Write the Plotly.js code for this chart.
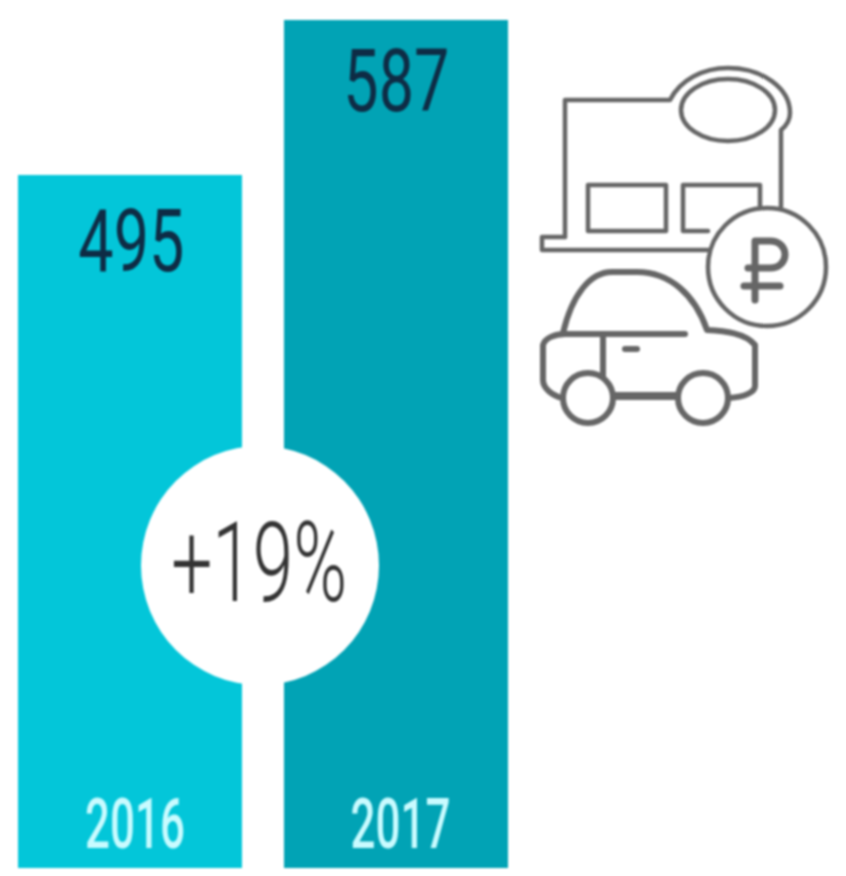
<!DOCTYPE html>
<html>
<head>
<meta charset="utf-8">
<script src="https://cdn.plot.ly/plotly-3.0.1.min.js"></script>
<style>html,body{margin:0;padding:0;background:#fff}#chart{width:846px;height:876px;filter:blur(0.9px)}</style>
</head>
<body>
<div id="chart"></div>
<script>
const years = ['2016', '2017'];
const values = [495, 587];
const barColors = ['#03c6d9', '#01a3b5'];
const changeLabel = '+19%';

const W = 846, H = 876, B = 8;
const px = p => p / W;
const py = p => (H - B - p) / (H - B);
const FONT = 'Roboto, "Liberation Sans", sans-serif';

const icon = `<svg xmlns="http://www.w3.org/2000/svg" width="846" height="876" viewBox="0 0 846 876">
<g fill="none" stroke="#666666" stroke-linejoin="round" stroke-linecap="round">
<g stroke-width="4.5">
<path d="M565 237V100H670C680 80 703 68 728 68C762 68 790 88 790 113C790 120 786 126 781 130V207"/>
<ellipse cx="728" cy="110" rx="47" ry="31"/>
<rect x="588" y="185" width="78" height="46"/>
<path d="M708 231H683V185H760V208"/>
<path d="M565 237H542V250H708"/>
<circle cx="767" cy="267" r="59"/>
<path d="M755 300V241H770C790 241 790 268 770 268H748M744 286H780" stroke-width="7"/>
</g>
<g stroke-width="6">
<path d="M563 333C572 295 590 272 612 272H637C670 272 695 295 707 330C725 331 745 333 755 345V386C755 392 745 397 729 398"/>
<path d="M563 398C552 396 543 388 543 380V345C545 338 555 334 565 334H685"/>
<path d="M603 335V378"/>
<path d="M625 349H637"/>
<path d="M612 396H680" stroke-width="8"/>
<circle cx="588" cy="398" r="25" fill="#fff"/>
<circle cx="703" cy="398" r="25" fill="#fff"/>
</g>
</g></svg>`;

const trace = {
  type: 'bar', x: years, y: values, width: 224 / 265.5,
  marker: {color: barColors, line: {width: 0}},
  hoverinfo: 'skip', showlegend: false
};

const valueGaps = [33, 28];
const valueAnnotations = years.map((year, i) => ({
  x: i, y: values[i], xref: 'x', yref: 'y',
  text: String(values[i]), showarrow: false, xanchor: 'center', yanchor: 'top',
  yshift: -valueGaps[i] + 20, xshift: 1,
  font: {family: FONT, size: 87, weight: 400, color: '#0e2c45'}
}));
const changeAnnotation = {
  x: px(259), y: py(562), xref: 'paper', yref: 'paper', text: changeLabel,
  showarrow: false, xanchor: 'center', yanchor: 'middle',
  font: {family: FONT, size: 112, weight: 300, color: '#333333'}
};

const layout = {
  width: W, height: H,
  margin: {l: 0, r: 0, t: 0, b: B, pad: 0},
  paper_bgcolor: '#fff', plot_bgcolor: 'rgba(0,0,0,0)',
  bargap: 0, showlegend: false,
  xaxis: {
    type: 'category', range: [-130 / 265.5, (W - 130) / 265.5],
    categoryorder: 'array', categoryarray: years,
    tickvals: years, ticktext: years,
    ticklabelposition: 'inside', ticks: 'inside', ticklen: 17, tickcolor: 'rgba(0,0,0,0)',
    ticklabelshift: 5,
    tickfont: {family: FONT, size: 70, weight: 500, color: '#c9fbff'},
    showgrid: false, zeroline: false, showline: false
  },
  yaxis: {range: [83.75, 598.87], visible: false, fixedrange: true},
  shapes: [{
    type: 'circle', xref: 'paper', yref: 'paper', layer: 'above',
    x0: px(141), x1: px(379), y0: py(685), y1: py(446),
    fillcolor: '#ffffff', line: {width: 0}
  }],
  annotations: [...valueAnnotations, changeAnnotation],
  images: [{
    source: 'data:image/svg+xml;charset=utf-8,' + encodeURIComponent(icon),
    xref: 'paper', yref: 'paper', x: 0, y: 1, sizex: 1, sizey: H / (H - B),
    xanchor: 'left', yanchor: 'top', sizing: 'stretch', layer: 'above'
  }]
};

Plotly.newPlot('chart', [trace], layout, {displayModeBar: false, responsive: false}).then(gd => {
  gd.querySelectorAll('.xtick text').forEach(t => {
    t.setAttribute('textLength', 100);
    t.setAttribute('lengthAdjust', 'spacingAndGlyphs');
  });
  gd.querySelectorAll('.annotation-text').forEach(t => {
    const target = t.textContent === changeLabel ? 176 : 106;
    const box = t.getBBox();
    const cx = box.x + box.width / 2;
    const s = target / box.width;
    t.setAttribute('transform', `translate(${cx} 0) scale(${s} 1) translate(${-cx} 0)`);
  });
});
</script>
</body>
</html>
